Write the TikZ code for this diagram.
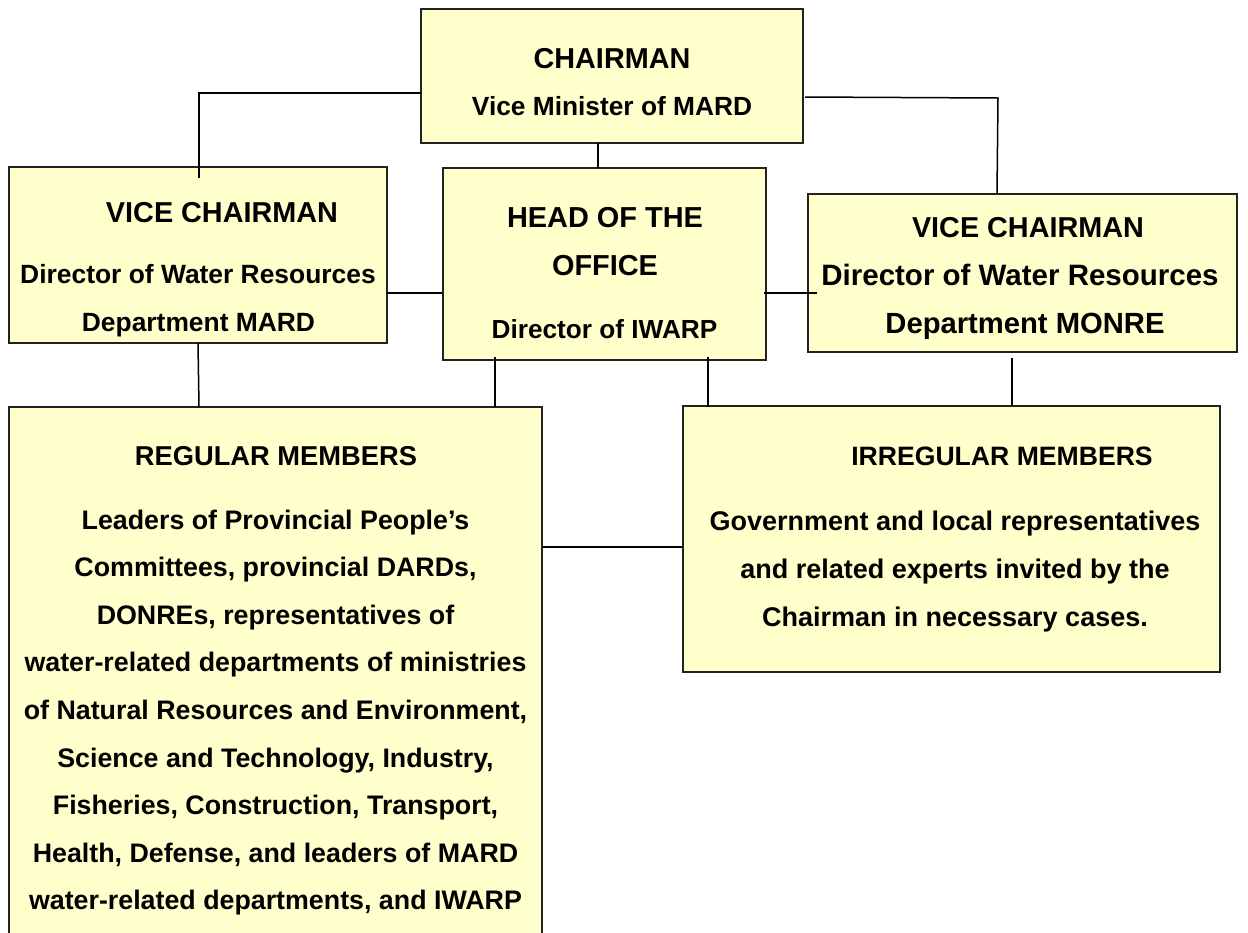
\documentclass[tikz,border=0pt]{standalone}
\usepackage{fontspec}
\setmainfont{Liberation Sans}
\newcommand\fsz[1]{\fontsize{#1}{#1}\selectfont\bfseries}
\definecolor{boxfill}{RGB}{255,255,204}
\definecolor{boxline}{RGB}{34,34,34}
\begin{document}
\begin{tikzpicture}[x=1pt,y=-1pt,
  box/.style={draw=boxline,fill=boxfill,line width=2pt},
  txt/.style={anchor=base,inner sep=0pt,outer sep=0pt},
  conn/.style={draw=black,line width=1.5pt}]
\useasboundingbox (0,0) rectangle (1248,932);
\fill[white] (0,0) rectangle (1248,932);
\clip (0,0) rectangle (1248,932);
% boxes
\path[box] (421,9) rectangle (803,143);
\path[box] (9,167) rectangle (387,343);
\path[box] (443,168) rectangle (766,360);
\path[box] (808,194) rectangle (1237,352);
\path[box] (9,407) rectangle (542,960);
\path[box] (683,406) rectangle (1220,672);
% named box anchors
\coordinate (chair) at (612,76);
\coordinate (lvc) at (198,255);
\coordinate (head) at (604,264);
\coordinate (rvc) at (1022,273);
\coordinate (reg) at (275,680);
\coordinate (irr) at (951,539);
% connector endpoints
\coordinate (c1a) at (421,93);
\coordinate (c1b) at (199,93);
\coordinate (c1c) at (199,178);
\coordinate (c2a) at (805,97);
\coordinate (c2b) at (998,98);
\coordinate (c2c) at (997,194);
\coordinate (c3a) at (598,143);
\coordinate (c3b) at (598,168);
\coordinate (c4a) at (387,293);
\coordinate (c4b) at (442,293);
\coordinate (c5a) at (764,293);
\coordinate (c5b) at (817,293);
\coordinate (c6a) at (198,343);
\coordinate (c6b) at (199,407);
\coordinate (c7a) at (495,357);
\coordinate (c7b) at (495,407);
\coordinate (c8a) at (708,357);
\coordinate (c8b) at (708,407);
\coordinate (c9a) at (1012,358);
\coordinate (c9b) at (1012,406);
\coordinate (c10a) at (542,547);
\coordinate (c10b) at (683,547);
\draw[conn] (c1a) -- (c1b) -- (c1c);
\draw[conn] (c2a) -- (c2b) -- (c2c);
\draw[conn] (c3a) -- (c3b);
\draw[conn] (c4a) -- (c4b);
\draw[conn] (c5a) -- (c5b);
\draw[conn] (c6a) -- (c6b);
\draw[conn] (c7a) -- (c7b);
\draw[conn] (c8a) -- (c8b);
\draw[conn] (c9a) -- (c9b);
\draw[conn] (c10a) -- (c10b);
% texts: chairman
\node[txt,font=\fsz{28.8}] (t1) at (612,68) {CHAIRMAN};
\node[txt,font=\fsz{26.3}] (t2) at (612,115) {Vice Minister of MARD};
% left vice chairman
\node[txt,font=\fsz{28.8}] (t3) at (222,222) {VICE CHAIRMAN};
\node[txt,font=\fsz{26.4}] (t4) at (198,283) {Director of Water Resources};
\node[txt,font=\fsz{26.4}] (t5) at (198.5,331) {Department MARD};
% head
\node[txt,font=\fsz{28.9}] (t6) at (605,227) {HEAD OF THE};
\node[txt,font=\fsz{28.9}] (t7) at (605,275) {OFFICE};
\node[txt,font=\fsz{26.2}] (t8) at (604.5,338) {Director of IWARP};
% right vice chairman
\node[txt,font=\fsz{28.8}] (t9) at (1028,237) {VICE CHAIRMAN};
\node[txt,font=\fsz{29.5}] (t10) at (1020,285) {Director of Water Resources};
\node[txt,font=\fsz{29.2}] (t11) at (1025,333) {Department MONRE};
% regular members
\node[txt,font=\fsz{27.3}] (t12) at (276,465) {REGULAR MEMBERS};
\node[txt,font=\fsz{26.8}] (r1) at (275.5,529) {Leaders of Provincial People’s};
\node[txt,font=\fsz{26.8}] (r2) at (275.5,576.6) {Committees, provincial DARDs,};
\node[txt,font=\fsz{26.8}] (r3) at (275.5,624.2) {DONREs, representatives of};
\node[txt,font=\fsz{26.8}] (r4) at (275.5,671.8) {water-related departments of ministries};
\node[txt,font=\fsz{26.8}] (r5) at (275.5,719.4) {of Natural Resources and Environment,};
\node[txt,font=\fsz{26.8}] (r6) at (275.5,767) {Science and Technology, Industry,};
\node[txt,font=\fsz{26.8}] (r7) at (275.5,814.6) {Fisheries, Construction, Transport,};
\node[txt,font=\fsz{26.8}] (r8) at (275.5,862.2) {Health, Defense, and leaders of MARD};
\node[txt,font=\fsz{26.8}] (r9) at (275.5,909.8) {water-related departments, and IWARP};
% irregular members
\node[txt,font=\fsz{26.6}] (t13) at (1002,465) {IRREGULAR MEMBERS};
\node[txt,font=\fsz{27}] (i1) at (955,530) {Government and local representatives};
\node[txt,font=\fsz{27}] (i2) at (955,578) {and related experts invited by the};
\node[txt,font=\fsz{27}] (i3) at (955,626) {Chairman in necessary cases.};
\end{tikzpicture}
\end{document}
